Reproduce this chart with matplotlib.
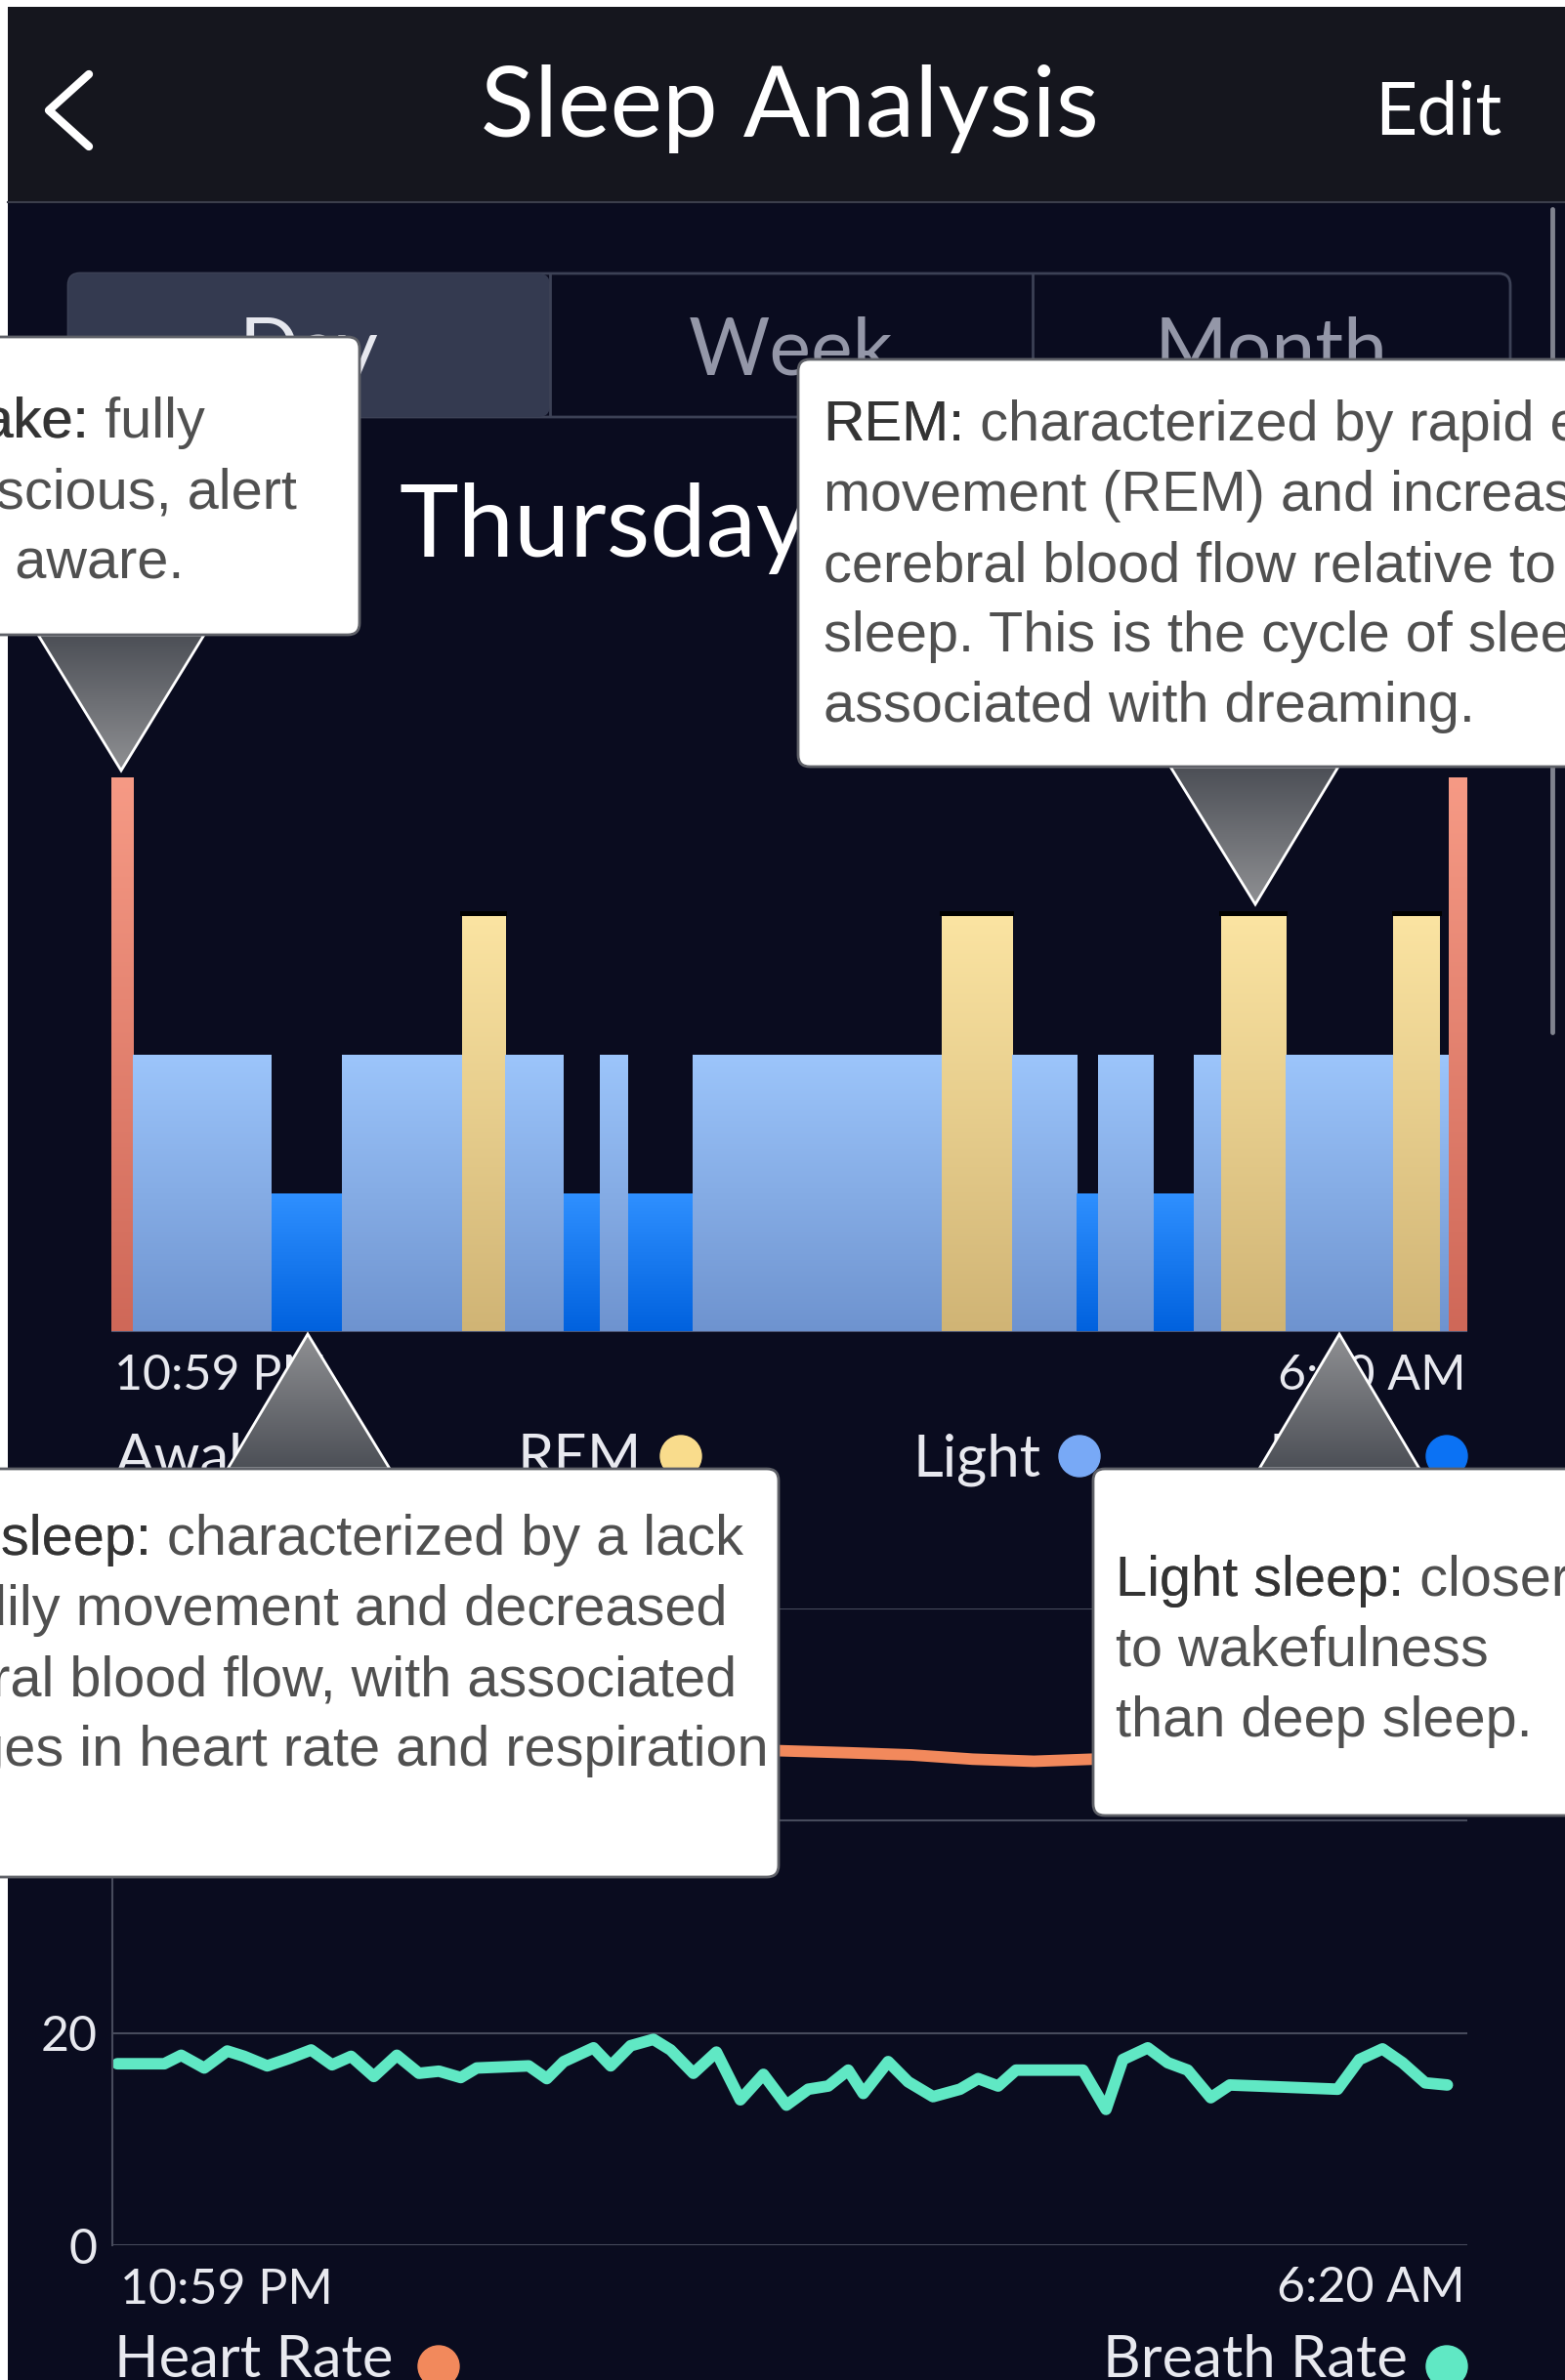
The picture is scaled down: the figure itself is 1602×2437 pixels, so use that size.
import numpy as np
import matplotlib; matplotlib.use('Agg')
import matplotlib.pyplot as plt
from matplotlib.colors import LinearSegmentedColormap
from matplotlib.patches import Rectangle, FancyBboxPatch, Polygon, Circle

# ---- data ----
# sleep stages, minutes from 10:59 PM
stage_start = [0, 7, 52, 75, 114, 128, 147, 159, 168, 189, 270, 293, 314, 321, 339, 352, 361, 382, 417, 432, 435]
stage_name = ['Awake', 'Light', 'Deep', 'Light', 'REM', 'Light', 'Deep', 'Light', 'Deep', 'Light', 'REM',
              'Light', 'Deep', 'Light', 'Deep', 'Light', 'REM', 'Light', 'REM', 'Light', 'Awake']
night_len = 441                     # 10:59 PM -> 6:20 AM
stage_level = {'Deep': 1, 'Light': 2, 'REM': 3, 'Awake': 4}
time_labels = ['10:59 PM', '6:20 AM']
stage_legend = ['Awake', 'REM', 'Light', 'Deep']

breath_t = [1.6, 16.9, 22.4, 29.9, 37.4, 42.9, 50.4, 57.5, 64.7, 71.5, 77.7, 85.1, 92.6, 99.8, 106.3, 113.4,
            118.6, 135.5, 141.4, 146.9, 156.6, 162.2, 168.7, 176.1, 181.7, 189.1, 196.6, 204.4, 211.9, 219.4,
            226.5, 233.0, 239.5, 244.4, 252.5, 259.0, 267.1, 275.9, 281.8, 288.3, 294.1, 315.9, 323.4, 328.9,
            337.0, 343.5, 350.0, 357.5, 363.7, 372.8, 398.8, 405.9, 413.4, 419.9, 427.3, 434.5]
breath_v = [17.1, 17.1, 17.9, 16.7, 18.3, 17.8, 16.9, 17.6, 18.4, 17.0, 17.8, 15.9, 17.9, 16.2, 16.4, 15.8,
            16.7, 16.9, 15.7, 17.3, 18.6, 16.9, 18.8, 19.4, 18.4, 16.2, 18.2, 13.7, 16.1, 13.2,
            14.7, 15.0, 16.5, 14.3, 17.3, 15.4, 14.0, 14.7, 15.7, 15.0, 16.5, 16.5, 12.8, 17.5,
            18.6, 17.2, 16.5, 13.9, 15.1, 15.0, 14.7, 17.5, 18.5, 17.2, 15.3, 15.1]
heart_t = [1.6, 30, 60, 100, 150, 190, 217, 240, 260, 280, 300, 319, 350, 390, 434.5]
heart_v = [49.5, 48.0, 47.5, 47.0, 46.5, 46.8, 46.6, 46.4, 46.2, 45.8, 45.6, 45.8, 46.0, 46.5, 47.0]
rate_ticks = [0, 20, 40, 60]
rate_legend = ['Heart Rate', 'Breath Rate']

callouts = {
    'Awake': ['Awake: fully', 'conscious, alert', 'and aware.'],
    'REM': ['REM: characterized by rapid eye', 'movement (REM) and increased',
            'cerebral blood flow relative to other', 'sleep. This is the cycle of sleep',
            'associated with dreaming.'],
    'Deep': ['Deep sleep: characterized by a lack', 'of bodily movement and decreased',
             'cerebral blood flow, with associated', 'changes in heart rate and respiration'],
    'Light': ['Light sleep: closer', 'to wakefulness', 'than deep sleep.'],
}

# ---- style ----
W, H = 1602, 2437
BODY = '#0a0c1f'; HEAD = '#15161e'; GRID = '#474b5c'
UI = 'Lato'
TXT = '#e8e9ef'
stage_grad = {'Deep': ('#0061de', '#2f90ff'), 'Light': ('#6e93cf', '#9cc5fb'),
              'REM': ('#d0b475', '#fbe4a2'), 'Awake': ('#cf6858', '#f69a85')}
stage_dot = {'Awake': '#f0846e', 'REM': '#f9dc8c', 'Light': '#78a9f6', 'Deep': '#0b72f4'}
HR_C = '#f2895c'; BR_C = '#60e8c4'

fig = plt.figure(figsize=(W/100, H/100), dpi=100, facecolor='white')

def px_axes(l, t, r, b, z):
    return fig.add_axes([l/W, 1-b/H, (r-l)/W, (b-t)/H], zorder=z)

bg = px_axes(0, 0, W, H, 0); bg.axis('off')
bg.add_patch(Rectangle((8, 7), W, H, color=BODY, lw=0))
bg.add_patch(Rectangle((8, 7), W, 200, color=HEAD, lw=0))
bg.plot([8, W], [207, 207], color='#3b3e4b', lw=1.5)
bg.plot([91, 50, 91], [76, 113, 150], color='white', lw=6, solid_capstyle='round')
bg.text(808, 140, 'Sleep Analysis', fontsize=73, color='white', ha='center', va='baseline', family=UI)
bg.text(1472, 138, 'Edit', fontsize=54, color='white', ha='center', va='baseline', family=UI)
bg.plot([1589, 1589], [214, 1057], color='#80838f', lw=3.5, solid_capstyle='round')

# segmented control
bg.add_patch(FancyBboxPatch((70, 280), 1476, 147, boxstyle='round,pad=0,rounding_size=12',
                            fc='none', ec='#3c4155', lw=2))
bg.add_patch(FancyBboxPatch((70, 280), 493, 147, boxstyle='round,pad=0,rounding_size=12',
                            fc='#343a50', ec='none'))
for xd in (563, 1057):
    bg.plot([xd, xd], [281, 426], color='#3c4155', lw=2)
for lab, xc, col in [('Day', 316, '#e6e7ee'), ('Week', 810, '#9497a8'), ('Month', 1301, '#9497a8')]:
    bg.text(xc, 384, lab, fontsize=58, color=col, ha='center', va='baseline', family=UI)
bg.text(409, 570, 'Thursday', fontsize=74, color='white', ha='left', va='baseline', family=UI)

# ---- sleep stage chart ----
ax = px_axes(114, 796, 1502, 1364, 1)
ax.set_facecolor('none')
stage_end = stage_start[1:] + [night_len]
grad = np.linspace(0, 1, 256).reshape(-1, 1)
for t0, t1, st in zip(stage_start, stage_end, stage_name):
    lv = stage_level[st]
    cm = LinearSegmentedColormap.from_list(st, stage_grad[st])
    ax.imshow(grad, extent=(t0, t1, 0, lv), origin='lower', aspect='auto', cmap=cm, interpolation='bilinear')
    if st == 'REM':
        ax.add_patch(Rectangle((t0 - 0.6, lv), t1 - t0 + 1.2, 0.035, color='black', lw=0))
ax.axhline(0, color='#4c5674', lw=1.5)
ax.set_xlim(0, night_len); ax.set_ylim(0, 4)
ax.axis('off')

bg.text(117, 1423, time_labels[0], fontsize=36, color=TXT, ha='left', va='baseline', family=UI)
bg.text(1501, 1423, time_labels[1], fontsize=36, color=TXT, ha='right', va='baseline', family=UI)
for lab, xd in zip(stage_legend, [337, 697, 1105, 1481]):
    bg.text(xd - 40, 1511, lab, fontsize=43, color=TXT, ha='right', va='baseline', family=UI)
    bg.add_patch(Circle((xd, 1491), 21, color=stage_dot[lab]))

# ---- heart / breath rate chart ----
ax2 = px_axes(115, 1647, 1502, 2299, 1)
ax2.set_facecolor('none')
ax2.plot(heart_t, heart_v, color=HR_C, lw=8.5, solid_capstyle='round', solid_joinstyle='round')
ax2.plot(breath_t, breath_v, color=BR_C, lw=8.5, solid_capstyle='round', solid_joinstyle='round')
ax2.set_xlim(0, night_len); ax2.set_ylim(0, 60)
ax2.set_yticks(rate_ticks)
ax2.set_xticks([])
ax2.grid(axis='y', color=GRID, lw=1.5)
for s in ('top', 'right', 'bottom'):
    ax2.spines[s].set_visible(False)
ax2.spines['left'].set_color(GRID); ax2.spines['left'].set_linewidth(1.5)
ax2.tick_params(axis='y', length=0, pad=11, labelsize=36, labelcolor=TXT)
for t in ax2.get_yticklabels():
    t.set_family(UI)

bg.text(123, 2359, time_labels[0], fontsize=36, color=TXT, ha='left', va='baseline', family=UI)
bg.text(1500, 2357, time_labels[1], fontsize=36, color=TXT, ha='right', va='baseline', family=UI)
bg.text(117, 2434, rate_legend[0], fontsize=43, color=TXT, ha='left', va='baseline', family=UI)
bg.add_patch(Circle((449, 2423), 21, color=HR_C))
bg.text(1441, 2434, rate_legend[1], fontsize=43, color=TXT, ha='right', va='baseline', family=UI)
bg.add_patch(Circle((1481, 2423), 21, color=BR_C))
bg.set_xlim(0, W); bg.set_ylim(H, 0)

# ---- callouts ----
fg = px_axes(0, 0, W, H, 3); fg.axis('off')
tri_cm = LinearSegmentedColormap.from_list('tri', ['#4c4f56', '#8f9093'])
boxes = {  # x0, y0, x1, y1, text x, first baseline, pointer base x0, x1, tip
    'Awake': (-60, 345, 368, 650, -97, 448, (39, 209, 650), (124, 789)),
    'REM': (817, 368, 1700, 785, 843, 451, (1198, 1370, 785), (1285, 926)),
    'Deep': (-60, 1504, 797, 1922, -153, 1592, (233, 399, 1504), (315, 1366)),
    'Light': (1119, 1504, 1700, 1859, 1142, 1634, (1289, 1453, 1504), (1371, 1366)),
}
for key, (x0, y0, x1, y1, tx, ty, base, tip) in boxes.items():
    bx0, bx1, by = base
    poly = Polygon([(bx0, by), (bx1, by), tip], closed=True, fc='none', ec='white', lw=2, zorder=4)
    fg.add_patch(poly)
    im = fg.imshow(grad, extent=(bx0, bx1, by, tip[1]), origin='lower', aspect='auto', cmap=tri_cm, zorder=3)
    im.set_clip_path(poly)
    fg.add_patch(FancyBboxPatch((x0, y0), x1 - x0, y1 - y0, boxstyle='round,pad=0,rounding_size=12',
                                fc='white', ec='#5f6168', lw=2, zorder=5))
    for i, line in enumerate(callouts[key]):
        fg.text(tx, ty + 72*i, line, fontsize=41.5, color='#505050', family='Liberation Sans',
                va='baseline', ha='left', zorder=6)
    head = callouts[key][0].split(':')[0] + ':'
    fg.text(tx, ty, head, fontsize=41.5, color='#333333', family='Liberation Sans',
            va='baseline', ha='left', zorder=7)
fg.set_xlim(0, W); fg.set_ylim(H, 0)

fig.savefig('out.png', dpi=100, facecolor='white')
